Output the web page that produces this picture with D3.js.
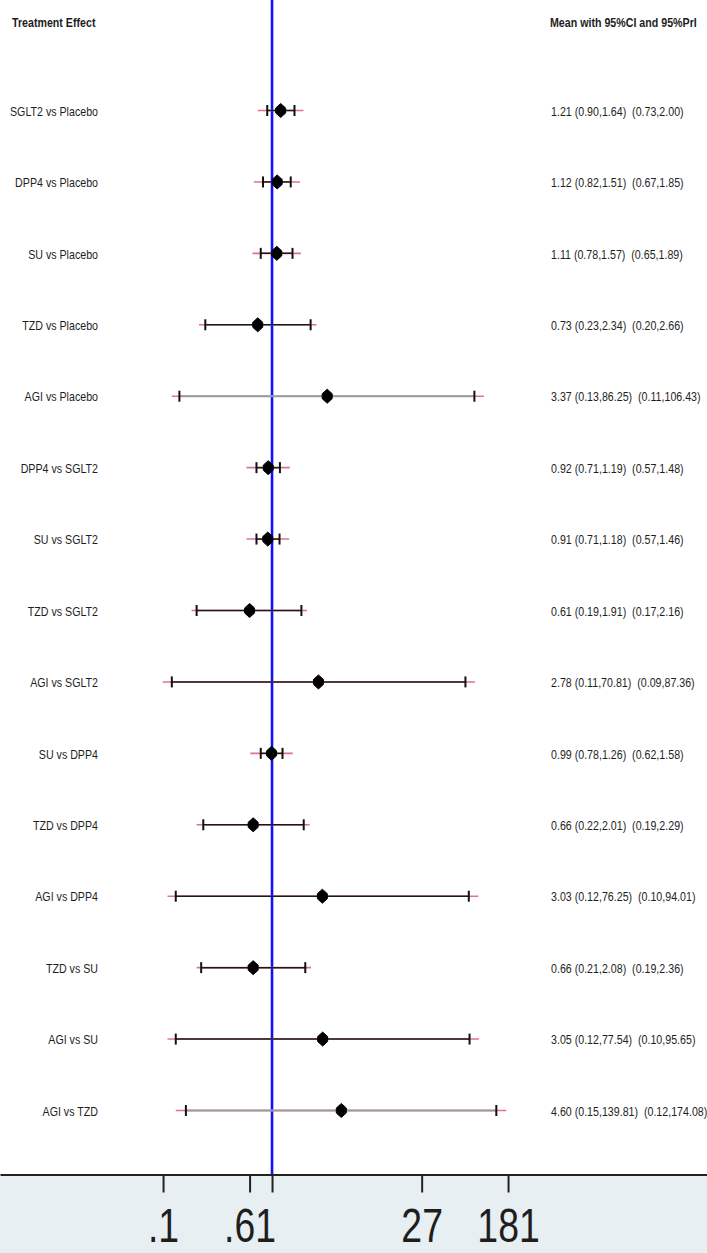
<!DOCTYPE html>
<html>
<head>
<meta charset="utf-8">
<script src="https://cdn.jsdelivr.net/npm/d3@7"></script>
<style>
  html, body { margin: 0; padding: 0; background: #fff; }
  svg { display: block; }
  text { font-family: "Liberation Sans", Arial, sans-serif; fill: #1e1e1e; }
</style>
</head>
<body>
<div id="chart"></div>
<script>
// Pairwise comparisons: mean effect, 95% confidence interval, 95% prediction interval
const comparisons = [
  "SGLT2 vs Placebo", "DPP4 vs Placebo", "SU vs Placebo", "TZD vs Placebo", "AGI vs Placebo",
  "DPP4 vs SGLT2", "SU vs SGLT2", "TZD vs SGLT2", "AGI vs SGLT2",
  "SU vs DPP4", "TZD vs DPP4", "AGI vs DPP4",
  "TZD vs SU", "AGI vs SU", "AGI vs TZD"
];
const mean   = [1.21, 1.12, 1.11, 0.73, 3.37, 0.92, 0.91, 0.61, 2.78, 0.99, 0.66, 3.03, 0.66, 3.05, 4.60];
const ciLow  = [0.90, 0.82, 0.78, 0.23, 0.13, 0.71, 0.71, 0.19, 0.11, 0.78, 0.22, 0.12, 0.21, 0.12, 0.15];
const ciHigh = [1.64, 1.51, 1.57, 2.34, 86.25, 1.19, 1.18, 1.91, 70.81, 1.26, 2.01, 76.25, 2.08, 77.54, 139.81];
const priLow = [0.73, 0.67, 0.65, 0.20, 0.11, 0.57, 0.57, 0.17, 0.09, 0.62, 0.19, 0.10, 0.19, 0.10, 0.12];
const priHigh= [2.00, 1.85, 1.89, 2.66, 106.43, 1.48, 1.46, 2.16, 87.36, 1.58, 2.29, 94.01, 2.36, 95.65, 174.08];

// Axis ticks (log scale) and their printed labels
const tickValues = [0.0907, 0.61, 1, 27, 181];
const tickLabels = [".1", ".61", "", "27", "181"];
const nullValue = 1;

const W = 707, H = 1253;
const axisY = 1174.5;
const narrow = 0.82; // horizontal squeeze for a condensed look

const svg = d3.select("#chart").append("svg")
  .attr("width", W).attr("height", H);

const x = d3.scaleLog().domain([0.0025, 14480]).range([0, W]);
const y = d3.scalePoint().domain(comparisons).range([110.5, 1110.5]);

const fmt = d3.format(".2f");
const rows = comparisons.map((name, i) => ({
  name, m: mean[i], lo: ciLow[i], hi: ciHigh[i], plo: priLow[i], phi: priHigh[i]
}));
const wideRows = new Set(["AGI vs Placebo", "AGI vs TZD"]);

// shaded band under the axis
svg.append("rect")
  .attr("x", 0).attr("y", axisY).attr("width", W).attr("height", H - axisY)
  .attr("fill", "#e8eff2");

// condensed text helper
function narrowText(g, tx, ty, str, anchor, size, weight) {
  return g.append("g").attr("transform", `translate(${tx},${ty}) scale(${narrow},1)`)
    .append("text")
    .attr("text-anchor", anchor)
    .attr("dy", "0.36em")
    .attr("font-size", size)
    .attr("font-weight", weight || "normal")
    .attr("xml:space", "preserve")
    .style("white-space", "pre")
    .text(str);
}
narrowText(svg, 12, 22, "Treatment Effect", "start", 13, "bold");
narrowText(svg, 550, 22, "Mean with 95%CI and 95%PrI", "start", 13, "bold");

// row labels and value text
rows.forEach(r => {
  narrowText(svg, 98, y(r.name) + 0.5, r.name, "end", 13);
  narrowText(svg, 551, y(r.name) + 0.5,
    `${fmt(r.m)} (${fmt(r.lo)},${fmt(r.hi)})  (${fmt(r.plo)},${fmt(r.phi)})`, "start", 13);
});

// reference line at no effect
svg.append("line")
  .attr("x1", x(nullValue)).attr("x2", x(nullValue))
  .attr("y1", 0).attr("y2", axisY)
  .attr("stroke", "#1010ff").attr("stroke-width", 2.6);

const marks = svg.append("g");
const row = marks.selectAll("g.row").data(rows).join("g")
  .attr("class", "row")
  .attr("transform", d => `translate(0,${y(d.name)})`);

// prediction interval
row.append("line")
  .attr("x1", d => x(d.plo)).attr("x2", d => x(d.phi))
  .attr("stroke", "#e2728b").attr("stroke-width", 1.6);

// confidence interval
row.append("line")
  .attr("x1", d => x(d.lo)).attr("x2", d => x(d.hi))
  .attr("stroke", d => wideRows.has(d.name) ? "#9a9a9a" : "#1a1a1a")
  .attr("stroke-width", d => wideRows.has(d.name) ? 2 : 1.5);

// CI end caps
row.selectAll("line.cap").data(d => [d.lo, d.hi]).join("line")
  .attr("class", "cap")
  .attr("x1", v => x(v)).attr("x2", v => x(v))
  .attr("y1", -5.5).attr("y2", 5.5)
  .attr("stroke", "#111").attr("stroke-width", 2);

// mean marker
row.append("path")
  .attr("d", "M0,-7 L5,-2.5 L5,2.5 L0,7 L-5,2.5 L-5,-2.5 Z")
  .attr("transform", d => `translate(${x(d.m)},0)`)
  .attr("fill", "#000").attr("stroke", "#000").attr("stroke-width", 1)
  .attr("stroke-linejoin", "round");

// x axis
const axis = d3.axisBottom(x)
  .tickValues(tickValues)
  .tickFormat((d, i) => tickLabels[i])
  .tickSize(18)
  .tickSizeOuter(0);

const ax = svg.append("g").attr("transform", `translate(0,${axisY})`).call(axis);
ax.select(".domain").attr("stroke", "#222").attr("stroke-width", 2.2);
ax.selectAll(".tick line").attr("stroke", "#222").attr("stroke-width", 2);
ax.selectAll(".tick text")
  .attr("y", 61.8).attr("dy", 0)
  .attr("transform", `scale(0.85,1.1)`)
  .attr("font-size", 44)
  .attr("font-family", "'Liberation Sans', Arial, sans-serif")
  .attr("fill", "#111");
</script>
</body>
</html>
